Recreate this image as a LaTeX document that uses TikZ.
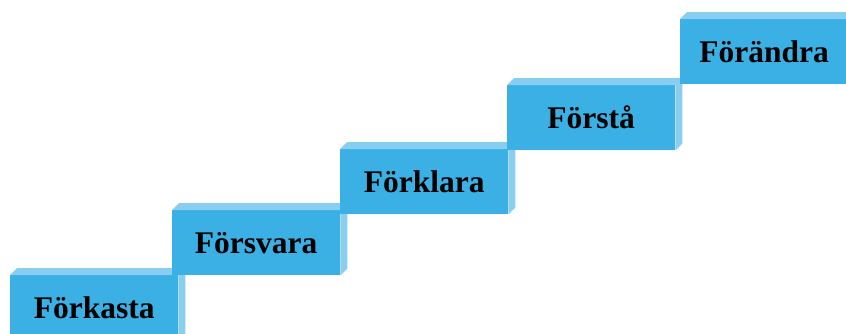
\documentclass[tikz,border=0pt]{standalone}
\usepackage{fontspec}
\setmainfont{Liberation Serif}
\definecolor{frontblue}{RGB}{58,176,228}
\definecolor{lightblue}{RGB}{136,206,240}
\tikzset{
  stepface/.style={rectangle, fill=frontblue, draw=none, inner sep=0pt,
    minimum width=168pt, minimum height=65pt, anchor=north west,
    font=\fontsize{31.5}{36}\selectfont\bfseries, text=black},
  shade3d/.style={fill=lightblue, draw=none}
}
\newcommand{\stepbox}[4]{%
  \node[stepface] (#1) at (#2pt,-#3pt) {#4};
  \fill[shade3d] (#1.north west) -- ++(7pt,7pt) -- ([shift={(7pt,7pt)}]#1.north east) -- (#1.north east) -- cycle;
  \fill[shade3d] (#1.north east) -- ++(7pt,7pt) -- ([shift={(7pt,7pt)}]#1.south east) -- (#1.south east) -- cycle;
}
\begin{document}
\begin{tikzpicture}
\useasboundingbox (0,0) rectangle (846pt,-333pt);
\clip (0,0) rectangle (846pt,-333pt);
\stepbox{s1}{10}{275}{Förkasta}
\stepbox{s2}{172}{210}{Försvara}
\stepbox{s3}{340}{149}{Förklara}
\stepbox{s4}{507}{85}{Förstå}
\stepbox{s5}{680}{19}{Förändra}
\end{tikzpicture}
\end{document}
